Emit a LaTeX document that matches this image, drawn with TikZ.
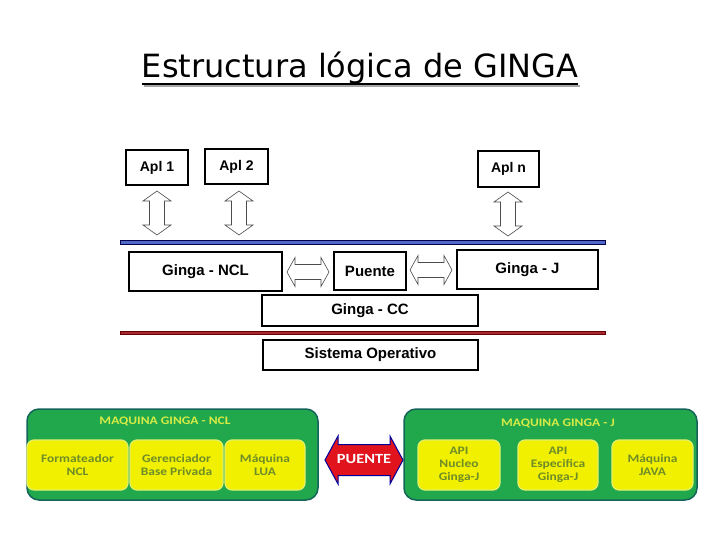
\documentclass[tikz,border=0pt]{standalone}
\usepackage{fontspec}
\setmainfont{Liberation Sans}
\newfontfamily\titlefont{DejaVu Sans}
\newfontfamily\calfont{Carlito}[FakeStretch=1.17]
\definecolor{gfill}{RGB}{34,168,76}
\definecolor{gborder}{RGB}{20,100,90}
\definecolor{yfill}{RGB}{240,240,0}
\definecolor{yedge}{RGB}{225,240,110}
\definecolor{ytext}{RGB}{110,140,40}
\definecolor{gtext}{RGB}{215,235,70}
\definecolor{bline}{RGB}{80,105,200}
\definecolor{rline}{RGB}{170,40,50}
\definecolor{pred}{RGB}{225,20,30}
\tikzset{
  box/.style={draw, line width=1.8pt, fill=white, inner sep=0pt, font=\bfseries\fontsize{15}{17}\selectfont},
  arrline/.style={draw=black!70, fill=white, line width=0.6pt, line join=miter},
  pics/vdarr/.style={code={
    \path[arrline] (0,-22) -- (14,-12) -- (7.5,-12) -- (7.5,12) -- (14,12) -- (0,22)
      -- (-14,12) -- (-7.5,12) -- (-7.5,-12) -- (-14,-12) -- cycle;}},
  pics/hdarr/.style={code={
    \path[arrline] (-21,0) -- (-13,-14.5) -- (-13,-7.5) -- (13,-7.5) -- (13,-14.5) -- (21,0)
      -- (13,14.5) -- (13,7.5) -- (-13,7.5) -- (-13,14.5) -- cycle;}},
  pics/redarr/.style={code={
    \path[fill=pred, draw=black!40!blue, line width=1pt, line join=miter] (-39,0) -- (-26,-24) -- (-26,-15.5) -- (26,-15.5) -- (26,-24) -- (39,0)
      -- (26,24) -- (26,15.5) -- (-26,15.5) -- (-26,24) -- cycle;}},
  gpanel/.style={draw=gborder, line width=1.5pt, fill=gfill, rounded corners=12pt},
  ybox/.style={fill=yfill, draw=yedge, line width=1.2pt, rounded corners=7pt, align=center, text=ytext,
     font=\calfont\bfseries\fontsize{11.5}{13}\selectfont},
  gtitle/.style={text=gtext, font=\calfont\bfseries\fontsize{11.5}{13}\selectfont}
}
\begin{document}
\begin{tikzpicture}[x=1pt,y=-1pt]
\useasboundingbox (0,0) rectangle (720,540);
% title
\node[anchor=base, font=\titlefont\fontsize{32}{38}\selectfont] (title) at (360,78) {Estructura lógica de GINGA};
\draw[black!35, line width=2pt] (144,86) -- (580,86);
\draw[line width=2pt] (142,84) -- (578,84);
% applications
\node[box, font=\bfseries\fontsize{14}{16}\selectfont, minimum width=62pt, minimum height=35pt] (apl1) at (157,167.5) {Apl 1};
\node[box, font=\bfseries\fontsize{14}{16}\selectfont, minimum width=63pt, minimum height=35pt] (apl2) at (236.5,166.5) {Apl 2};
\node[box, font=\bfseries\fontsize{14}{16}\selectfont, minimum width=61pt, minimum height=36pt] (apln) at (508.5,169) {Apl n};
% middleware line
\fill[bline, draw=black!70!blue, line width=0.6pt] (120,240.5) rectangle (605,244);
\pic (a1) at (157,213) {vdarr};
\pic (a2) at (239,213) {vdarr};
\pic (an) at (508,214) {vdarr};
% middle layer
\node[box, minimum width=153pt, minimum height=39pt] (ncl) at (205.5,271.5) {Ginga - NCL};
\node[box, minimum width=72pt, minimum height=38pt] (puente) at (370,271) {Puente};
\node[box, minimum width=141pt, minimum height=39pt] (gj) at (527.5,269.5) {Ginga - J};
\pic (h1) at (308,272) {hdarr};
\pic (h2) at (431,270) {hdarr};
\node[box, line width=1.5pt, minimum width=216pt, minimum height=31pt] (cc) at (370,310.5) {Ginga - CC};
% OS line
\fill[rline, draw=black!60!red, line width=0.6pt] (120,331.5) rectangle (605,334.5);
\node[box, line width=1.5pt, minimum width=215pt, minimum height=30pt] (so) at (370.5,355) {Sistema Operativo};
% bottom panels
\node[gpanel, minimum width=291pt, minimum height=91pt, inner sep=0pt] (gncl) at (172.5,454.5) {};
\node[gtitle] (tncl) at (165,421) {MAQUINA GINGA - NCL};
\node[ybox, minimum width=101pt, minimum height=50pt] (fmt) at (77.5,465) {Formateador\\NCL};
\node[ybox, minimum width=93pt, minimum height=50pt] (ger) at (176.5,465) {Gerenciador\\Base Privada};
\node[ybox, minimum width=80pt, minimum height=50pt] (lua) at (265,465) {Máquina\\LUA};
\node[gpanel, minimum width=293pt, minimum height=91pt, inner sep=0pt] (gj2) at (550.5,454.5) {};
\node[gtitle] (tj) at (558,423) {MAQUINA GINGA - J};
\node[ybox, minimum width=82pt, minimum height=50pt] (api1) at (459,465) {API\\Nucleo\\Ginga-J};
\node[ybox, minimum width=80pt, minimum height=50pt] (api2) at (558,465) {API\\Especifica\\Ginga-J};
\node[ybox, minimum width=81pt, minimum height=50pt] (java) at (652.5,465) {Máquina\\JAVA};
\pic (pu) at (364,460) {redarr};
\node[text=white, font=\calfont\bfseries\fontsize{14}{16}\selectfont] (putext) at (364,459) {PUENTE};
\end{tikzpicture}
\end{document}
